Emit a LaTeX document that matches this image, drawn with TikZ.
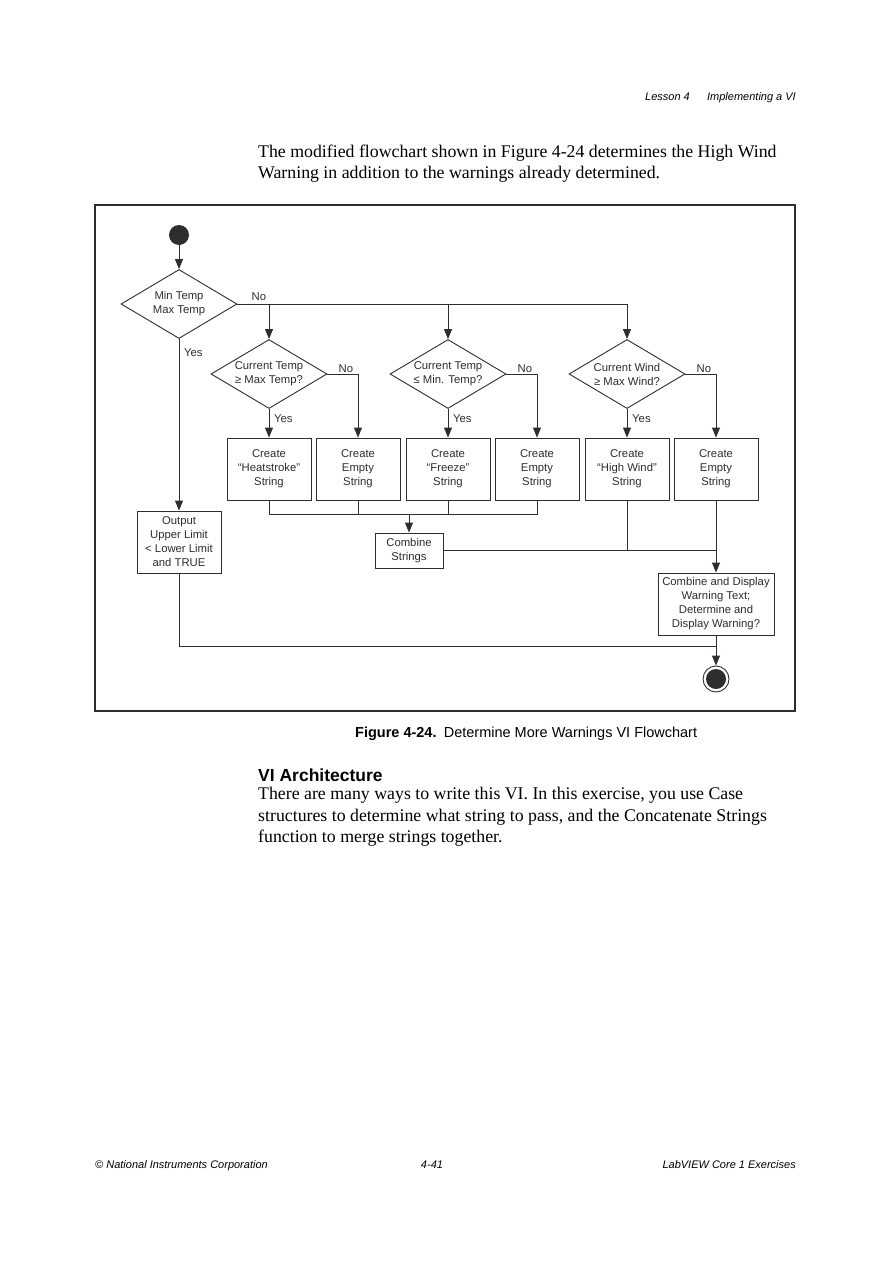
\documentclass[tikz,border=0pt]{standalone}
\usepackage{fontspec}
\setmainfont{Liberation Serif}
\newfontfamily\hvfont{Liberation Sans}
\usetikzlibrary{arrows.meta,calc,positioning,shapes.geometric}
\definecolor{ink}{HTML}{2E2E2E}
\tikzset{
  flowbox/.style={
    draw=ink,
    line width=0.9pt,
    text=ink,
    minimum width=84pt,
    minimum height=62pt,
    inner sep=2pt,
    align=center,
    font=\hvfont\fontsize{11.3}{14}\selectfont
  },
  decision/.style={
    diamond,
    draw=ink,
    line width=0.9pt,
    text=ink,
    aspect=1.7,
    minimum width=116pt,
    minimum height=69pt,
    inner xsep=-6pt,
    inner ysep=0pt,
    align=center,
    font=\hvfont\fontsize{11.3}{14}\selectfont
  },
  flow/.style={
    draw=ink,
    line width=0.9pt,
    -{Triangle[length=10pt,width=8pt]}
  },
  wire/.style={
    draw=ink,
    line width=0.9pt
  },
  lbl/.style={
    text=ink,
    inner sep=0pt,
    font=\hvfont\fontsize{11.3}{14}\selectfont
  },
  bodytext/.style={
    text=black,
    inner sep=0pt,
    anchor=base west,
    font=\fontsize{17.8}{21}\selectfont
  },
  pagemark/.style={
    text=black,
    inner sep=0pt,
    font=\hvfont\itshape\fontsize{11}{12}\selectfont
  }
}
% one test: question diamond, yes box below, no box to the right
\newcommand{\checkbranch}[7]{%
  \node[decision] (#1) at (#4,374) {#5};
  \node[flowbox] (#2) at (#4,469) {#6};
  \node[flowbox] (#3) at ($(#4,469)+(89,0)$) {#7};
  \draw[flow] (#1) -- (#2);
  \node[lbl, anchor=base west] at ($(#1.south)+(5,14)$) {Yes};
  \draw[flow] (#1.east) -| (#3);
  \node[lbl, anchor=base west] at ($(#1.east)+(11,-2)$) {No};
}

\begin{document}
\begin{tikzpicture}[x=1pt,y=-1pt]

  \fill[white] (0,0) rectangle (893,1263);
  \useasboundingbox (0,0) rectangle (893,1263);

  % --- page head and text above the figure ---
  \node[pagemark, anchor=base east] (lesson) at (690,100) {Lesson 4};
  \node[pagemark, anchor=base east] (chapter) at (796,100) {Implementing a VI};
  \node[bodytext] (intro1) at (258,157)
    {The modified flowchart shown in Figure 4-24 determines the High Wind};
  \node[bodytext] (intro2) at (258,178)
    {Warning in addition to the warnings already determined.};

  % --- figure frame ---
  \draw[ink, line width=1.2pt] (95,205) rectangle (795,711);

  % --- start and range check ---
  \node[circle, fill=ink, minimum size=20pt, inner sep=0pt] (start) at (179,235) {};
  \node[decision] (range) at (179,304) {Min Temp\\Max Temp};
  \node[flowbox] (out) at (179,542) {Output\\Upper Limit\\< Lower Limit\\and TRUE};
  \draw[flow] (start) -- (range);
  \draw[flow] (range) -- (out);
  \node[lbl, anchor=base west] (yes1) at ($(range.south)+(5,18)$) {Yes};
  \node[lbl, anchor=base west] (no1) at ($(range.east)+(14,-4)$) {No};

  % --- the three tests ---
  \checkbranch{qhot}{heat}{emptyA}{269}{Current Temp\\≥ Max Temp?}%
    {Create\\“Heatstroke”\\String}{Create\\Empty\\String}
  \checkbranch{qcold}{freeze}{emptyB}{448}{Current Temp\\≤ Min. Temp?}%
    {Create\\“Freeze”\\String}{Create\\Empty\\String}
  \checkbranch{qwind}{wind}{emptyC}{627}{Current Wind\\≥ Max Wind?}%
    {Create\\“High Wind”\\String}{Create\\Empty\\String}

  \draw[flow] (range.east) -| (qwind);
  \draw[flow] (range.east -| qhot.north) -- (qhot);
  \draw[flow] (range.east -| qcold.north) -- (qcold);

  % --- combining ---
  \node[flowbox, minimum width=68pt, minimum height=35pt] (comb) at (409,550.5)
    {Combine\\Strings};
  \node[flowbox, minimum width=116pt] (fin) at (716,604)
    {Combine and Display\\Warning Text;\\Determine and\\Display Warning?};
  \node[circle, draw=ink, line width=0.9pt, minimum size=26pt, inner sep=0pt] (stop) at (716,679) {};
  \node[circle, fill=ink, minimum size=20pt, inner sep=0pt] (stopdot) at (stop) {};

  \coordinate (join) at ($(comb.north)+(0,-18)$);
  \draw[wire] (heat.south) |- (join);
  \draw[wire] (emptyB.south) |- (join);
  \draw[wire] (emptyA.south) -- (emptyA.south |- join);
  \draw[wire] (freeze.south) -- (freeze.south |- join);
  \draw[flow] (join) -- (comb);

  \draw[wire] (comb.east) -- (comb.east -| fin.north);
  \draw[wire] (wind.south) -- (wind.south |- comb.east);
  \draw[flow] (emptyC.south) -- (fin.north);

  \coordinate (merge) at ($(fin.south)+(0,11)$);
  \draw[wire] (out.south) |- (merge);
  \draw[flow] (fin.south) -- (stop);

  % --- caption and text below ---
  \node[text=black, inner sep=0pt, anchor=base west,
        font=\hvfont\fontsize{14.5}{17}\selectfont] (caption) at (355,737)
    {\textbf{Figure 4-24.}\enspace Determine More Warnings VI Flowchart};
  \node[text=black, inner sep=0pt, anchor=base west,
        font=\hvfont\bfseries\fontsize{17.5}{20}\selectfont] (head) at (258,781)
    {VI Architecture};
  \node[bodytext] (para1) at (258,799)
    {There are many ways to write this VI. In this exercise, you use Case};
  \node[bodytext] (para2) at (258,821)
    {structures to determine what string to pass, and the Concatenate Strings};
  \node[bodytext] (para3) at (258,842)
    {function to merge strings together.};

  % --- page foot ---
  \node[pagemark, anchor=base west] (copy) at (95,1168) {© National Instruments Corporation};
  \node[pagemark, anchor=base] (pageno) at (432,1168) {4-41};
  \node[pagemark, anchor=base east] (book) at (796,1168) {LabVIEW Core 1 Exercises};

\end{tikzpicture}
\end{document}
